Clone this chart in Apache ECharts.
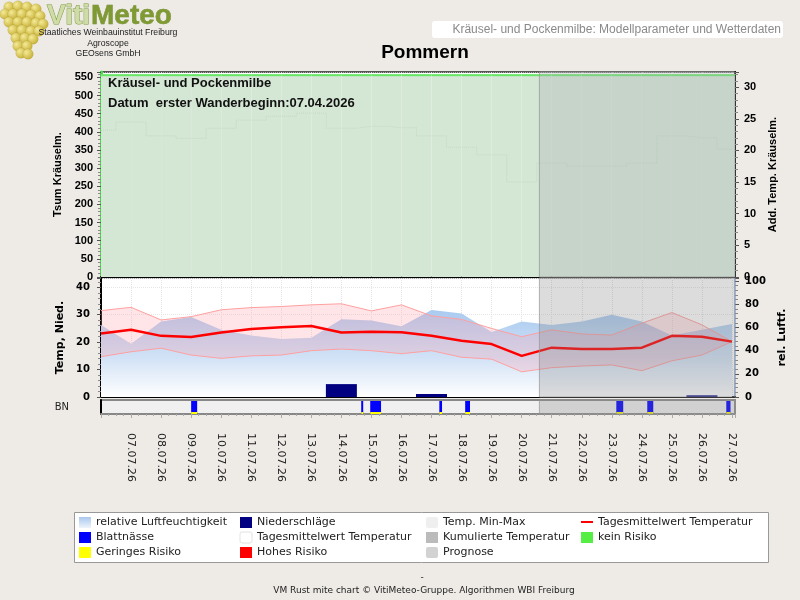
<!DOCTYPE html>
<html>
<head>
<meta charset="utf-8">
<title>Kräusel- und Pockenmilbe - Pommern</title>
<script src="https://cdn.jsdelivr.net/npm/echarts@6/dist/echarts.min.js"></script>
<style>
    html, body { margin: 0; padding: 0; background: #eeebe7; }
    #chart { width: 800px; height: 600px; }
</style>
</head>
<body>
<div id="chart"></div>
<script>
// Tage, Index 0 = 06.07.26
const days = ['06.07.26', '07.07.26', '08.07.26', '09.07.26', '10.07.26', '11.07.26', '12.07.26',
    '13.07.26', '14.07.26', '15.07.26', '16.07.26', '17.07.26', '18.07.26', '19.07.26', '20.07.26',
    '21.07.26', '22.07.26', '23.07.26', '24.07.26', '25.07.26', '26.07.26', '27.07.26'];
const tempMax = [31.5, 32.7, 28.1, 29.3, 31.8, 32.6, 33.0, 33.6, 34.0, 31.4, 33.6,
    29.6, 28.3, 25.0, 22.0, 24.5, 23.0, 22.6, 26.9, 30.8, 26.3, 20.2];
const tempMin = [14.7, 16.5, 17.8, 15.3, 14.1, 15.0, 15.3, 16.9, 17.5, 16.9, 15.8,
    16.9, 14.5, 13.8, 9.2, 10.7, 11.3, 11.7, 9.6, 13.2, 15.3, 20.2];
const tempMean = [23.2, 24.5, 22.3, 21.9, 23.5, 24.8, 25.4, 25.9, 23.5, 23.8, 23.6,
    22.3, 20.5, 19.3, 15.0, 18.0, 17.5, 17.5, 18.0, 22.3, 22.0, 20.2];
const relHumidity = [62, 46, 65, 69, 58, 53, 50, 51, 67, 66, 61, 75, 72, 56, 65, 62, 65, 71, 65, 53, 58, 63];
const rain = [0, 0, 0, 0, 0, 0, 0, 0, 4.7, 0, 0, 1.1, 0, 0, 0, 0, 0, 0, 0, 0, 0.6, 0];
// Blattnässe-Perioden [Beginn, Ende] in Tagen ab 06.07.
const leafWetness = [[3.00, 3.20], [8.66, 8.72], [8.96, 9.32], [11.26, 11.35], [12.12, 12.28],
    [17.15, 17.38], [18.18, 18.38], [20.81, 20.95]];
const leafWetnessRisk = ['gering', 'gering', 'gering', 'gering', 'gering', 'gering', 'gering', 'gering'];
const dayRisk = ['kein', 'kein', 'kein', 'kein', 'kein', 'kein', 'kein', 'kein', 'kein', 'kein', 'kein',
    'kein', 'kein', 'kein', 'kein', 'kein', 'kein', 'kein', 'kein', 'kein', 'kein', 'kein'];
const prognoseStart = 14.59;

const riskCode = { kein: 0, gering: 1, hoch: 2 };
const riskFill = ['#d4e6d4', '#fafac0', '#f5c8c8'];
const riskLine = ['#66e866', '#ffff00', '#ff0000'];
const xMax = 21.1;

const legendItems = [
    ['relative Luftfeuchtigkeit', 'humid'], ['Niederschläge', '#000080'], ['Temp. Min-Max', '#efefef'], ['Tagesmittelwert Temperatur', 'line'],
    ['Blattnässe', '#0000ff'], ['Tagesmittelwert Temperatur', '#ffffff'], ['Kumulierte Temperatur', '#bbbbbb'], ['kein Risiko', '#55ee44'],
    ['Geringes Risiko', '#ffff00'], ['Hohes Risiko', '#ff0000'], ['Prognose', '#d2d2d2']
];

const chart = echarts.init(document.getElementById('chart'));

const arial = 'Liberation Sans, Arial, sans-serif';
const dejavu = 'DejaVu Sans, Verdana, sans-serif';

function xAxisFor(grid, withLabels) {
    return {
        type: 'value', gridIndex: grid, min: 0, max: xMax, interval: 1,
        axisLine: { show: true, lineStyle: { color: grid === 2 ? '#888' : '#000', width: 2 } },
        axisTick: { show: withLabels, length: 4, lineStyle: { color: '#aaa' } },
        minorTick: { show: withLabels, splitNumber: 4, length: 2, lineStyle: { color: '#aaa' } },
        axisLabel: withLabels ? {
            rotate: -90, margin: 19, color: '#222', fontFamily: dejavu, fontSize: 11,
            showMinLabel: false, showMaxLabel: false,
            formatter: v => days[v] || ''
        } : { show: false },
        splitLine: {
            show: grid !== 2,
            lineStyle: { color: grid === 0 ? 'rgba(255,255,255,0.6)' : '#e4e4e4', type: 'dotted' }
        }
    };
}

function yTicks() {
    return {
        axisTick: { show: true, length: 4, lineStyle: { color: '#555' } },
        minorTick: { show: true, splitNumber: 5, length: 3, lineStyle: { color: '#888' } }
    };
}

// Prognose-Bereich als halbtransparente Fläche über den Daten
function prognose(xIdx, yIdx, color) {
    return {
        type: 'line', xAxisIndex: xIdx, yAxisIndex: yIdx, z: 10, silent: true,
        data: [[prognoseStart, 0]], symbol: 'none', lineStyle: { opacity: 0 },
        markArea: {
            silent: true, z: 20,
            itemStyle: { color: color, borderColor: 'rgba(150,150,150,0.7)', borderWidth: 1 },
            data: [[{ xAxis: prognoseStart }, { xAxis: xMax }]]
        }
    };
}

// Legende als Grafik
const legendGraphics = [{
    type: 'rect', left: 74, top: 512, shape: { width: 694, height: 50 },
    style: { fill: '#fff', stroke: '#999', lineWidth: 1 }
}];
const colIcon = [79, 240, 426, 581];
legendItems.forEach(([name, kind], k) => {
    const row = Math.floor(k / 4), col = k % 4;
    const cy = 522 + row * 15;
    const x = colIcon[col];
    if (kind === 'line') {
        legendGraphics.push({ type: 'rect', shape: { x: x, y: cy - 1, width: 12, height: 2 }, style: { fill: '#ff0000' } });
    } else if (kind === 'humid') {
        legendGraphics.push({
            type: 'rect', shape: { x: x, y: cy - 5, width: 12, height: 11 },
            style: { fill: new echarts.graphic.LinearGradient(0, 0, 0, 1, [{ offset: 0, color: '#a9c8ee' }, { offset: 1, color: '#eef4fb' }]) }
        });
    } else {
        legendGraphics.push({
            type: 'rect', shape: { x: x, y: cy - 5, width: 12, height: 11, r: kind === '#ffffff' || kind === '#efefef' || kind === '#d2d2d2' ? 2 : 0 },
            style: { fill: kind, stroke: kind === '#ffffff' ? '#e2e2e2' : null }
        });
    }
    legendGraphics.push({
        type: 'text', x: x + 17, y: cy,
        style: { text: name, fill: '#222', font: '11px ' + dejavu, verticalAlign: 'middle' }
    });
});

// Logo-Trauben
const grapes = [
    [9, 7], [18, 6], [27, 7], [36, 9],
    [5, 14], [13, 14], [22, 14], [31, 15], [40, 16],
    [9, 22], [18, 22], [27, 22], [36, 23], [43, 24],
    [13, 30], [22, 30], [31, 31], [39, 31],
    [16, 38], [25, 38], [33, 39],
    [18, 46], [27, 46],
    [21, 53], [28, 54]
];
const grapeGraphics = grapes.map(([x, y]) => ({
    type: 'circle', shape: { cx: x, cy: y, r: 5.3 },
    style: {
        fill: new echarts.graphic.RadialGradient(0.35, 0.35, 0.75, [{ offset: 0, color: '#f4ea96' }, { offset: 1, color: '#c2aa2c' }]),
        stroke: 'rgba(150,130,30,0.35)', lineWidth: 0.5
    }
}));

const option = {
    backgroundColor: '#eeebe7',
    animation: false,
    grid: [
        { left: 101, right: 65, top: 72, height: 205, show: true, backgroundColor: '#fff', borderColor: '#555', borderWidth: 2 },
        { left: 101, right: 65, top: 278, height: 119, show: true, backgroundColor: '#fff', borderColor: '#555', borderWidth: 1 },
        { left: 101, right: 65, top: 400, height: 14, show: true, backgroundColor: '#f0f0f0', borderColor: '#888', borderWidth: 2 }
    ],
    xAxis: [xAxisFor(0, false), xAxisFor(1, false), xAxisFor(2, true)],
    yAxis: [
        Object.assign({
            type: 'value', gridIndex: 0, min: 0, max: 565, interval: 50, position: 'left',
            name: 'Tsum Kräuselm.', nameLocation: 'middle', nameGap: 37,
            nameTextStyle: { fontFamily: arial, fontWeight: 'bold', fontSize: 11, color: '#000' },
            axisLine: { show: true, lineStyle: { color: '#44dd44', width: 3 } },
            axisLabel: { showMaxLabel: false, margin: 8, color: '#000', fontFamily: arial, fontWeight: 'bold', fontSize: 11 },
            splitLine: { show: true, lineStyle: { color: 'rgba(255,255,255,0.5)', type: 'dotted' } }
        }, yTicks()),
        Object.assign({
            type: 'value', gridIndex: 0, min: 0, max: 32.4, interval: 5, position: 'right',
            name: 'Add. Temp. Kräuselm.', nameLocation: 'middle', nameGap: 25,
            nameTextStyle: { fontFamily: arial, fontWeight: 'bold', fontSize: 11, color: '#000' },
            axisLine: { show: true, lineStyle: { color: '#000', width: 2 } },
            axisLabel: { showMaxLabel: false, margin: 9, color: '#000', fontFamily: arial, fontWeight: 'bold', fontSize: 11 },
            splitLine: { show: false }
        }, yTicks()),
        Object.assign({
            type: 'value', gridIndex: 1, min: 0, max: 43.4, interval: 10, position: 'left',
            name: 'Temp, Nied.', nameLocation: 'middle', nameGap: 33,
            nameTextStyle: { fontFamily: dejavu, fontWeight: 'bold', fontSize: 11, color: '#000' },
            axisLine: { show: true, lineStyle: { color: '#000', width: 2 } },
            axisLabel: { showMaxLabel: false, margin: 11, color: '#000', fontFamily: dejavu, fontWeight: 'bold', fontSize: 10 },
            splitLine: { show: true, lineStyle: { color: '#e6e6e6', type: 'dotted' } }
        }, yTicks()),
        Object.assign({
            type: 'value', gridIndex: 1, min: 0, max: 102.6, interval: 20, position: 'right',
            name: 'rel. Luftf.', nameLocation: 'middle', nameGap: 38,
            nameTextStyle: { fontFamily: dejavu, fontWeight: 'bold', fontSize: 11, color: '#000' },
            axisLine: { show: true, lineStyle: { color: '#a8c6f0', width: 2 } },
            axisLabel: { showMaxLabel: false, margin: 10, color: '#000', fontFamily: dejavu, fontWeight: 'bold', fontSize: 10 },
            splitLine: { show: false }
        }, yTicks()),
        {
            type: 'value', gridIndex: 2, min: 0, max: 1, position: 'left',
            axisLine: { show: true, lineStyle: { color: '#000', width: 2 } },
            axisTick: { show: false }, axisLabel: { show: false }, splitLine: { show: false }
        }
    ],
    series: [
        // Risiko-Band (oben)
        {
            type: 'custom', xAxisIndex: 0, yAxisIndex: 0, silent: true,
            data: dayRisk.map((r, i) => [i, riskCode[r]]),
            encode: { x: 0, y: -1 },
            renderItem: (params, api) => {
                const i = api.value(0), code = api.value(1);
                const p0 = api.coord([i, 0]);
                const p1 = api.coord([i + 1, 559]);
                const cs = params.coordSys;
                const x0 = Math.max(p0[0], cs.x), x1 = Math.min(p1[0], cs.x + cs.width);
                if (x1 <= x0) return null;
                return {
                    type: 'group', children: [
                        { type: 'rect', shape: { x: x0, y: p1[1], width: x1 - x0, height: p0[1] - p1[1] }, style: { fill: riskFill[code] } },
                        { type: 'rect', shape: { x: x0, y: p1[1], width: x1 - x0, height: 2 }, style: { fill: riskLine[code] } }
                    ]
                };
            }
        },
        // Tagesmittelwert (Stufen, oben, kaum sichtbar)
        {
            type: 'line', xAxisIndex: 0, yAxisIndex: 1, step: 'middle', symbol: 'none', silent: true,
            data: tempMean.map((v, i) => [i, v]),
            lineStyle: { color: 'rgba(150,175,150,0.22)', width: 1, type: 'dotted' }, z: 3
        },
        prognose(0, 0, 'rgba(170,175,180,0.33)'),
        // relative Luftfeuchtigkeit
        {
            type: 'line', xAxisIndex: 1, yAxisIndex: 3, symbol: 'none', silent: true, z: 1,
            data: relHumidity.map((v, i) => [i, v]),
            lineStyle: { width: 0 },
            areaStyle: {
                opacity: 1,
                color: new echarts.graphic.LinearGradient(0, 0, 0, 1, [
                    { offset: 0, color: '#a9caf0' },
                    { offset: 0.55, color: '#d2e2f6' },
                    { offset: 1, color: '#ffffff' }
                ])
            }
        },
        // Temp. Min-Max Band
        {
            type: 'custom', xAxisIndex: 1, yAxisIndex: 2, silent: true, z: 2,
            data: tempMin.map((v, i) => [i, v, tempMax[i]]),
            encode: { x: 0, y: [1, 2] },
            renderItem: (params, api) => {
                if (params.dataIndexInside !== 0) return null;
                const n = params.dataInsideLength;
                const upper = [], lower = [];
                for (let k = 0; k < n; k++) {
                    upper.push(api.coord([api.value(0, k), api.value(2, k)]));
                    lower.push(api.coord([api.value(0, k), api.value(1, k)]));
                }
                return {
                    type: 'group', children: [
                        { type: 'polygon', shape: { points: upper.concat(lower.slice().reverse()) }, style: { fill: 'rgba(255,150,165,0.25)' } },
                        { type: 'polyline', shape: { points: upper }, style: { stroke: '#ffa0a0', fill: null, lineWidth: 1 } },
                        { type: 'polyline', shape: { points: lower }, style: { stroke: '#ffa0a0', fill: null, lineWidth: 1 } }
                    ]
                };
            }
        },
        // Niederschläge
        {
            type: 'bar', xAxisIndex: 1, yAxisIndex: 2, silent: true, z: 3,
            data: rain.map((v, i) => [i, v]), barWidth: 31,
            itemStyle: { color: '#000080' }
        },
        // Tagesmittelwert Temperatur
        {
            type: 'line', xAxisIndex: 1, yAxisIndex: 2, symbol: 'none', silent: true, z: 4,
            data: tempMean.map((v, i) => [i, v]),
            lineStyle: { color: '#ff0000', width: 2.5 }
        },
        prognose(1, 2, 'rgba(128,128,128,0.28)'),
        // Blattnässe
        {
            type: 'custom', xAxisIndex: 2, yAxisIndex: 4, silent: true, z: 3,
            data: leafWetness.map(([a, b], k) => [a, b, riskCode[leafWetnessRisk[k]]]),
            encode: { x: [0, 1], y: -1 },
            renderItem: (params, api) => {
                const p0 = api.coord([api.value(0), 0]);
                const p1 = api.coord([api.value(1), 1]);
                const w = Math.max(p1[0] - p0[0], 2);
                const children = [{ type: 'rect', shape: { x: p0[0], y: p1[1] + 1, width: w, height: p0[1] - p1[1] - 1 }, style: { fill: '#0000ff' } }];
                if (api.value(2) > 0) {
                    children.push({ type: 'rect', shape: { x: p0[0], y: p0[1] - 2, width: w, height: 2 }, style: { fill: riskLine[api.value(2)] } });
                }
                return { type: 'group', children: children };
            }
        },
        prognose(2, 4, 'rgba(128,128,128,0.28)')
    ],
    graphic: [
        ...grapeGraphics,
        { type: 'text', x: 47, y: 16, style: { text: 'Viti', verticalAlign: 'middle', font: 'bold 28px ' + arial, fill: '#cfdca8', stroke: '#7d9a3a', lineWidth: 1 } },
        { type: 'text', x: 91, y: 16, style: { text: 'Meteo', verticalAlign: 'middle', font: 'bold 28px ' + arial, fill: '#7f9a32', stroke: '#6a8428', lineWidth: 0.5 } },
        { type: 'text', x: 108, y: 33, style: { text: 'Staatliches Weinbauinstitut Freiburg', align: 'center', verticalAlign: 'middle', font: '8.7px ' + arial, fill: '#222' } },
        { type: 'text', x: 108, y: 44, style: { text: 'Agroscope', align: 'center', verticalAlign: 'middle', font: '8.7px ' + arial, fill: '#222' } },
        { type: 'text', x: 108, y: 54, style: { text: 'GEOsens GmbH', align: 'center', verticalAlign: 'middle', font: '8.7px ' + arial, fill: '#222' } },
        { type: 'rect', shape: { x: 432, y: 21, width: 351, height: 17, r: 3 }, style: { fill: '#fff' } },
        { type: 'text', x: 781, y: 29.5, style: { text: 'Kräusel- und Pockenmilbe: Modellparameter und Wetterdaten', align: 'right', verticalAlign: 'middle', font: '12px ' + arial, fill: '#8a8a8a' } },
        { type: 'text', x: 425, y: 53, style: { text: 'Pommern', align: 'center', verticalAlign: 'middle', font: 'bold 19px ' + arial, fill: '#000' } },
        { type: 'text', x: 108, y: 83, z: 20, style: { text: 'Kräusel- und Pockenmilbe', verticalAlign: 'middle', font: 'bold 13px ' + arial, fill: '#111' } },
        { type: 'text', x: 108, y: 103, z: 20, style: { text: 'Datum  erster Wanderbeginn:07.04.2026', verticalAlign: 'middle', font: 'bold 13px ' + arial, fill: '#111' } },
        { type: 'text', x: 69, y: 407, style: { text: 'BN', align: 'right', verticalAlign: 'middle', font: '10px ' + dejavu, fill: '#222' } },
        ...legendGraphics,
        { type: 'text', x: 422, y: 578, style: { text: '-', align: 'center', verticalAlign: 'middle', font: '9px ' + dejavu, fill: '#222' } },
        { type: 'text', x: 424, y: 591, style: { text: 'VM Rust mite chart © VitiMeteo-Gruppe. Algorithmen WBI Freiburg', align: 'center', verticalAlign: 'middle', font: '9px ' + dejavu, fill: '#222' } }
    ]
};

chart.setOption(option);
</script>
</body>
</html>
